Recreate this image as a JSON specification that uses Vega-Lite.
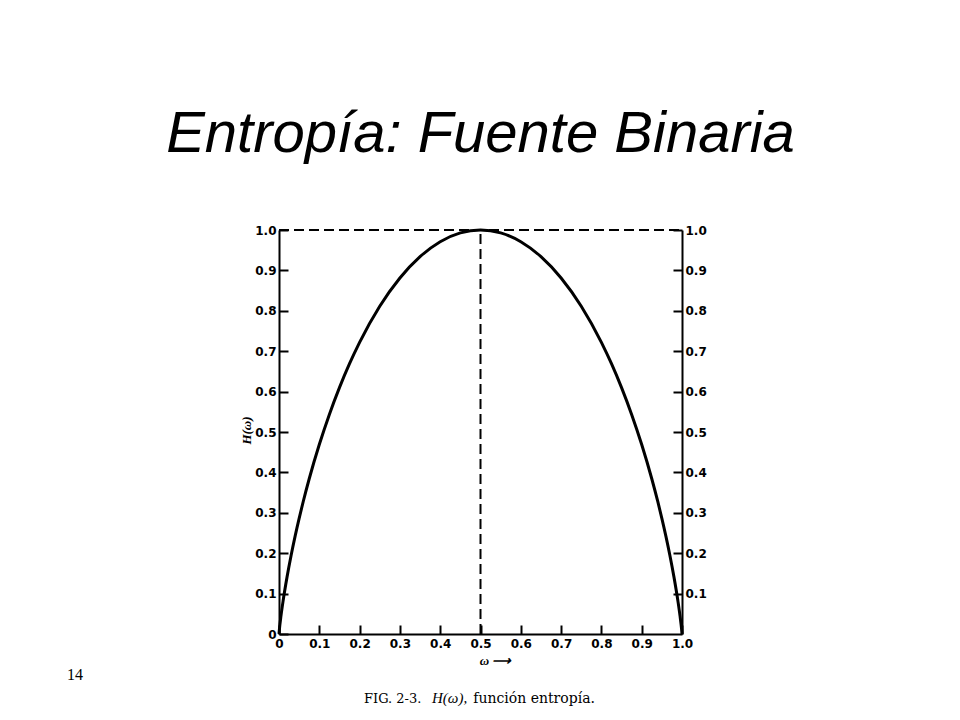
{
  "$schema": "https://vega.github.io/schema/vega-lite/v6.json",
  "width": 403,
  "height": 404,
  "autosize": {"type": "none"},
  "padding": {"left": 279, "top": 230, "right": 278, "bottom": 86},
  "background": "white",
  "title": {
    "text": "Entropía: Fuente Binaria",
    "font": "Liberation Sans",
    "fontSize": 58,
    "fontStyle": "italic",
    "fontWeight": "normal",
    "color": "black",
    "anchor": "middle",
    "frame": "group",
    "baseline": "alphabetic",
    "offset": 14
  },
  "config": {
    "view": {"stroke": null},
    "axis": {
      "grid": false,
      "domainColor": "black",
      "domainWidth": 2,
      "tickColor": "black",
      "tickWidth": 2,
      "tickSize": -9,
      "labelFont": "DejaVu Sans",
      "labelFontWeight": "bold",
      "labelFontSize": 12,
      "labelColor": "black",
      "labelFlush": false,
      "labelOverlap": false,
      "labelPadding": 12
    }
  },
  "resolve": {"scale": {"y": "independent"}, "axis": {"y": "independent"}},
  "layer": [
    {
      "data": {"values": [
        {"w": 0, "h": 0}, {"w": 0.001, "h": 0.0114}, {"w": 0.005, "h": 0.0454}, {"w": 0.01, "h": 0.0808},
        {"w": 0.02, "h": 0.1414}, {"w": 0.03, "h": 0.1944}, {"w": 0.04, "h": 0.2423}, {"w": 0.05, "h": 0.2864},
        {"w": 0.06, "h": 0.3274}, {"w": 0.075, "h": 0.3843}, {"w": 0.1, "h": 0.469}, {"w": 0.125, "h": 0.5436},
        {"w": 0.15, "h": 0.6098}, {"w": 0.175, "h": 0.669}, {"w": 0.2, "h": 0.7219}, {"w": 0.25, "h": 0.8113},
        {"w": 0.3, "h": 0.8813}, {"w": 0.35, "h": 0.9341}, {"w": 0.4, "h": 0.971}, {"w": 0.45, "h": 0.9928},
        {"w": 0.5, "h": 1.0},
        {"w": 0.55, "h": 0.9928}, {"w": 0.6, "h": 0.971}, {"w": 0.65, "h": 0.9341}, {"w": 0.7, "h": 0.8813},
        {"w": 0.75, "h": 0.8113}, {"w": 0.8, "h": 0.7219}, {"w": 0.825, "h": 0.669}, {"w": 0.85, "h": 0.6098},
        {"w": 0.875, "h": 0.5436}, {"w": 0.9, "h": 0.469}, {"w": 0.925, "h": 0.3843}, {"w": 0.94, "h": 0.3274},
        {"w": 0.95, "h": 0.2864}, {"w": 0.96, "h": 0.2423}, {"w": 0.97, "h": 0.1944}, {"w": 0.98, "h": 0.1414},
        {"w": 0.99, "h": 0.0808}, {"w": 0.995, "h": 0.0454}, {"w": 0.999, "h": 0.0114}, {"w": 1.0, "h": 0}
      ]},
      "mark": {"type": "line", "color": "black", "strokeWidth": 3, "interpolate": "monotone"},
      "encoding": {
        "x": {
          "field": "w", "type": "quantitative",
          "scale": {"domain": [0, 1], "nice": false, "zero": false},
          "axis": {
            "values": [0, 0.1, 0.2, 0.3, 0.4, 0.5, 0.6, 0.7, 0.8, 0.9, 1],
            "labelExpr": "datum.value == 0 ? '0' : format(datum.value, '.1f')",
            "labelPadding": 13,
            "title": "ω ⟶",
            "titleFont": "Liberation Serif",
            "titleFontStyle": "italic",
            "titleFontWeight": "bold",
            "titleFontSize": 13,
            "titleColor": "black",
            "titleX": 216,
            "titleY": 26,
            "titleAlign": "center",
            "titleBaseline": "middle"
          }
        },
        "y": {
          "field": "h", "type": "quantitative",
          "scale": {"domain": [0, 1], "nice": false, "zero": false},
          "axis": {
            "orient": "left",
            "values": [0, 0.1, 0.2, 0.3, 0.4, 0.5, 0.6, 0.7, 0.8, 0.9, 1],
            "labelExpr": "datum.value == 0 ? '0' : format(datum.value, '.1f')",
            "title": "H(ω)",
            "titleFont": "Liberation Serif",
            "titleFontStyle": "italic",
            "titleFontWeight": "bold",
            "titleFontSize": 13,
            "titleColor": "black",
            "titleAngle": -90,
            "titleX": -33,
            "titleY": 200,
            "titleAlign": "center",
            "titleBaseline": "middle"
          }
        }
      }
    },
    {
      "data": {"values": [{"w": 0.5, "lo": 0, "hi": 1}]},
      "mark": {"type": "rule", "color": "black", "strokeWidth": 2, "strokeDash": [10, 5]},
      "encoding": {
        "x": {"field": "w", "type": "quantitative", "scale": {"domain": [0, 1], "nice": false, "zero": false}},
        "y": {"field": "lo", "type": "quantitative", "scale": {"domain": [0, 1], "nice": false, "zero": false}, "axis": null},
        "y2": {"field": "hi"}
      }
    },
    {
      "data": {"values": [{"h": 1, "x0": 0, "x1": 1}]},
      "mark": {"type": "rule", "color": "black", "strokeWidth": 2, "strokeDash": [10, 5]},
      "encoding": {
        "x": {"field": "x0", "type": "quantitative", "scale": {"domain": [0, 1], "nice": false, "zero": false}},
        "x2": {"field": "x1"},
        "y": {
          "field": "h", "type": "quantitative",
          "scale": {"domain": [0, 1], "nice": false, "zero": false},
          "axis": {
            "orient": "right",
            "title": null,
            "values": [0.1, 0.2, 0.3, 0.4, 0.5, 0.6, 0.7, 0.8, 0.9, 1],
            "labelExpr": "format(datum.value, '.1f')"
          }
        }
      }
    },
    {
      "data": {"values": [{"label": "FIG. 2-3."}]},
      "mark": {"type": "text", "align": "left", "baseline": "alphabetic", "font": "DejaVu Serif", "fontSize": 13, "color": "black"},
      "encoding": {
        "text": {"field": "label"},
        "x": {"datum": 0.2109, "type": "quantitative", "scale": {"domain": [0, 1], "nice": false, "zero": false}},
        "y": {"datum": -0.1708, "type": "quantitative", "scale": {"domain": [0, 1], "nice": false, "zero": false}, "axis": null}
      }
    },
    {
      "data": {"values": [{"label": "H(ω),"}]},
      "mark": {"type": "text", "align": "left", "baseline": "alphabetic", "font": "Liberation Serif", "fontSize": 15, "fontStyle": "italic", "color": "black"},
      "encoding": {
        "text": {"field": "label"},
        "x": {"datum": 0.3797, "type": "quantitative", "scale": {"domain": [0, 1], "nice": false, "zero": false}},
        "y": {"datum": -0.1708, "type": "quantitative", "scale": {"domain": [0, 1], "nice": false, "zero": false}, "axis": null}
      }
    },
    {
      "data": {"values": [{"label": "función entropía."}]},
      "mark": {"type": "text", "align": "left", "baseline": "alphabetic", "font": "DejaVu Serif", "fontSize": 14, "color": "black"},
      "encoding": {
        "text": {"field": "label"},
        "x": {"datum": 0.482, "type": "quantitative", "scale": {"domain": [0, 1], "nice": false, "zero": false}},
        "y": {"datum": -0.1708, "type": "quantitative", "scale": {"domain": [0, 1], "nice": false, "zero": false}, "axis": null}
      }
    },
    {
      "data": {"values": [{"label": "14"}]},
      "mark": {"type": "text", "align": "left", "baseline": "alphabetic", "font": "Liberation Serif", "fontSize": 16, "color": "black"},
      "encoding": {
        "text": {"field": "label"},
        "x": {"datum": -0.526, "type": "quantitative", "scale": {"domain": [0, 1], "nice": false, "zero": false}},
        "y": {"datum": -0.1139, "type": "quantitative", "scale": {"domain": [0, 1], "nice": false, "zero": false}, "axis": null}
      }
    }
  ]
}
